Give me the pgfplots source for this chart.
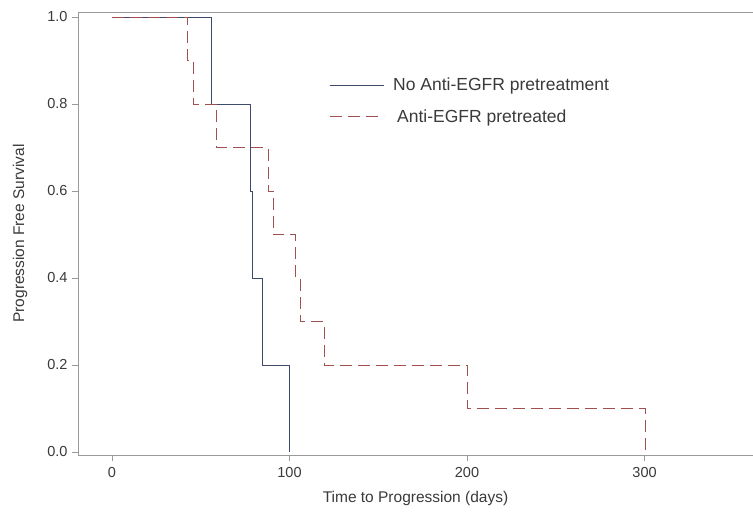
\documentclass[border=0pt]{standalone}
\usepackage{pgfplots}
\pgfplotsset{compat=1.18}
\usepackage{fontspec}
\setmainfont{Liberation Sans}
\definecolor{blueline}{HTML}{3E4A6C}
\definecolor{redline}{HTML}{A0504E}
\definecolor{axgray}{HTML}{9A9A9A}
\definecolor{txtgray}{HTML}{3A3A3A}
\begin{document}
\begin{tikzpicture}
\begin{axis}[
  at={(0,0)}, anchor=south west,
  scale only axis,
  width=675pt, height=443pt,
  xmin=-19.15, xmax=361.1,
  ymin=-0.0069, ymax=1.0115,
  axis x line*=bottom, axis y line*=left,
  axis line style={axgray, line width=0.8pt},
  xtick={0,100,200,300},
  ytick={0,0.2,0.4,0.6,0.8,1.0},
  tick align=outside,
  major tick length=6pt,
  tick style={axgray, line width=0.8pt},
  /pgf/number format/assume math mode=true,
  yticklabel style={/pgf/number format/fixed, /pgf/number format/fixed zerofill, /pgf/number format/precision=1, xshift=-1pt},
  ticklabel style={font=\fontsize{14.5}{16}\selectfont, text=txtgray},
  xticklabel style={yshift=-3pt},
  xlabel={Time to Progression (days)},
  ylabel={Progression Free Survival},
  label style={font=\fontsize{15.5}{18}\selectfont, text=txtgray},
  xlabel style={yshift=-7pt},
  ylabel style={yshift=13pt},
  legend style={at={(0.3675,0.86)}, anchor=north west, draw=none, fill=none,
    font=\fontsize{17.5}{20}\selectfont, text=txtgray, row sep=13pt,
    legend cell align=left},
  legend image code/.code={\draw[#1] (0pt,0pt) -- (54pt,0pt);},
]
\addplot[const plot, blueline, line width=0.9pt] coordinates {
  (0,1) (56,0.8) (78,0.6) (79,0.4) (85,0.2) (100,0)
};
\addlegendentry{\hspace{7pt}No Anti-EGFR pretreatment}
\addplot[const plot, redline, line width=0.9pt, dash pattern=on 12pt off 6pt] coordinates {
  (0,1) (42.6,0.9) (45.8,0.8) (59,0.7) (88,0.6) (90.9,0.5) (103.5,0.4) (105.9,0.3) (119.6,0.2) (200,0.1) (300.3,0)
};
\addlegendentry{\hspace{11pt}Anti-EGFR pretreated}
\draw[axgray, line width=0.8pt] (rel axis cs:0,1) -- (rel axis cs:1,1);
\end{axis}
\pgfresetboundingbox
\useasboundingbox (-78pt,-62pt) rectangle (675pt,455pt);
\end{tikzpicture}
\end{document}
